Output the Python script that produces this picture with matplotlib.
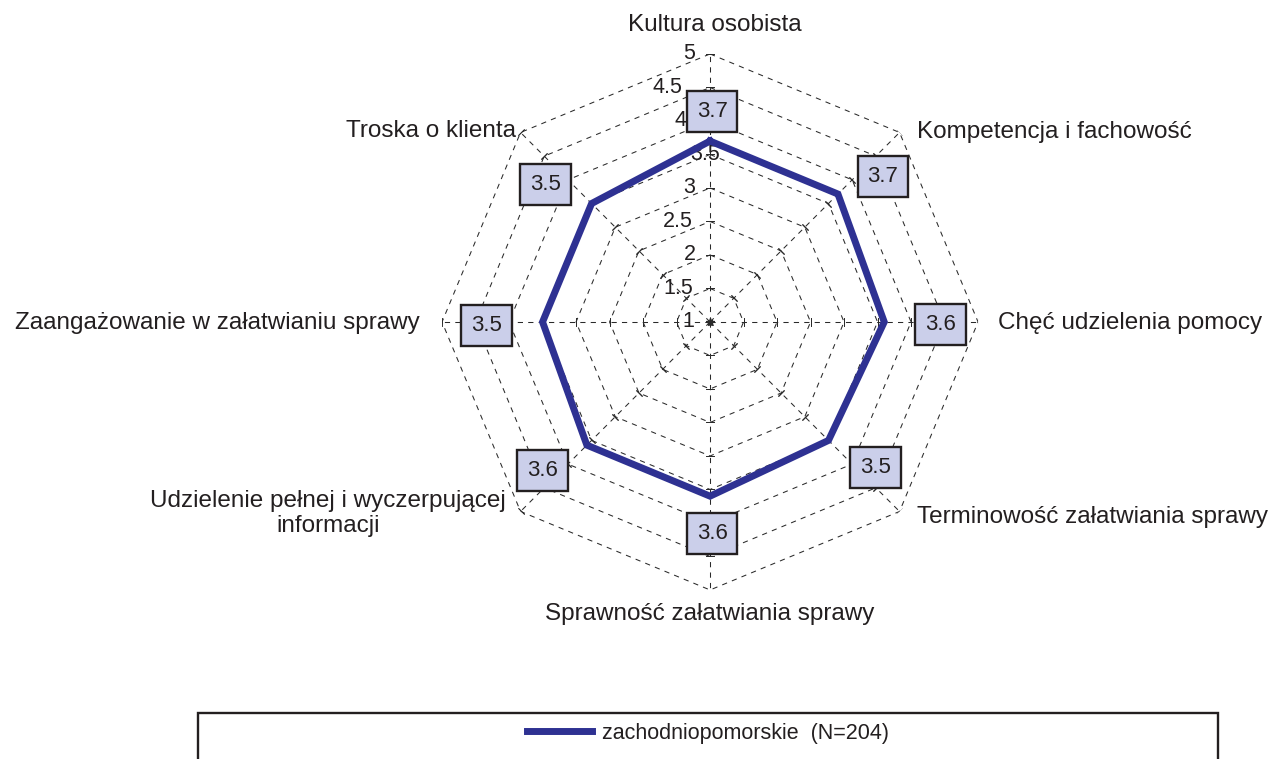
import numpy as np
import matplotlib.pyplot as plt
from matplotlib.lines import Line2D
from matplotlib.patches import Rectangle

plt.rcParams['font.family'] = ['Liberation Sans', 'DejaVu Sans']

categories = ['Kultura osobista', 'Kompetencja i fachowość', 'Chęć udzielenia pomocy',
              'Terminowość załatwiania sprawy', 'Sprawność załatwiania sprawy',
              'Udzielenie pełnej i wyczerpującej\ninformacji',
              'Zaangażowanie w załatwianiu sprawy', 'Troska o klienta']
values = [3.7, 3.7, 3.6, 3.5, 3.6, 3.6, 3.5, 3.5]
levels = [1, 1.5, 2, 2.5, 3, 3.5, 4, 4.5, 5]
series_name = 'zachodniopomorskie  (N=204)'

navy = '#2e3192'
ink = '#231f20'
grid_c = '#2a2a2a'

n = len(categories)
theta = np.arange(n) * 2 * np.pi / n
theta_closed = np.append(theta, theta[0])

fig = plt.figure(figsize=(12.75, 7.59), dpi=100)
ax = fig.add_axes([0.3467, 0.2227, 0.4204, 0.7062], projection='polar')
ax.set_theta_zero_location('N')
ax.set_theta_direction(-1)
ax.set_ylim(1, 5)
ax.set_axis_off()

# polygon grid + spokes with small ticks
dash = (0, (5, 5))
for lv in levels[1:]:
    ax.plot(theta_closed, [lv] * (n + 1), color=grid_c, lw=0.75, ls=dash, zorder=1)
for t in theta:
    ax.plot([t, t], [1, 5], color=grid_c, lw=0.75, ls=dash, zorder=1)
    ang = 90 - np.degrees(t)
    ax.plot([t] * (len(levels) - 1), levels[1:], ls='none', color=grid_c,
            marker=(2, 2, ang), ms=6, mew=0.7, zorder=1)
ax.plot([0], [1], marker='*', color=grid_c, ms=6, zorder=1)

# scale labels along the top spoke (offsets in pixels)
scale_off = [-16, -17, -14, -17, -15, 10, -24, -28, -15]
for lv, dx in zip(levels, scale_off):
    ax.annotate(f'{lv:g}', xy=(0, lv), xytext=(dx, 0), textcoords='offset pixels',
                ha='right', va='center', fontsize=15.5, color=ink, zorder=2)

# data polygon
ax.plot(theta_closed, values + values[:1], color=navy, lw=5, zorder=3,
        solid_joinstyle='miter')

# value boxes, shifted off each vertex
box_off = [(2, 30), (45, 18), (56, -3), (47, -27),
           (2, -37), (-44, -25), (-56, -4), (-46, 19)]
for t, v, (dx, dy) in zip(theta, values, box_off):
    ax.annotate(f'{v:.1f}', xy=(t, v), xytext=(dx, dy), textcoords='offset pixels',
                ha='center', va='center', fontsize=16, color=ink, zorder=4,
                bbox=dict(boxstyle='square,pad=0.45', fc='#cbcfea', ec=ink, lw=1.7))

# category labels, placed off the outer ring
lab_off = [(5, 29, 'center'), (17, 0, 'left'), (20, -1, 'left'), (17, -6, 'left'),
           (0, -24, 'center'), (-15, -2, 'right'), (-22, -1, 'right'), (-5, 1, 'right')]
for t, lab, (dx, dy, ha) in zip(theta, categories, lab_off):
    ax.annotate(lab, xy=(t, 5), xytext=(dx, dy), textcoords='offset pixels',
                ha=ha, va='center', fontsize=17.5, color=ink,
                multialignment='center', zorder=4)

# legend
fig.patches.append(Rectangle((198 / 1275, -0.05), 1020 / 1275, 0.05 + 46 / 759,
                             transform=fig.transFigure, fill=False,
                             ec=ink, lw=1.7, clip_on=False))
handle = Line2D([], [], color=navy, lw=5)
fig.legend([handle], [series_name], loc='center',
           bbox_to_anchor=(708 / 1275, 1 - 733 / 759), frameon=False,
           fontsize=15.5, handlelength=3.0, handletextpad=0.45,
           labelcolor=ink)

fig.savefig('out.png', dpi=100)
